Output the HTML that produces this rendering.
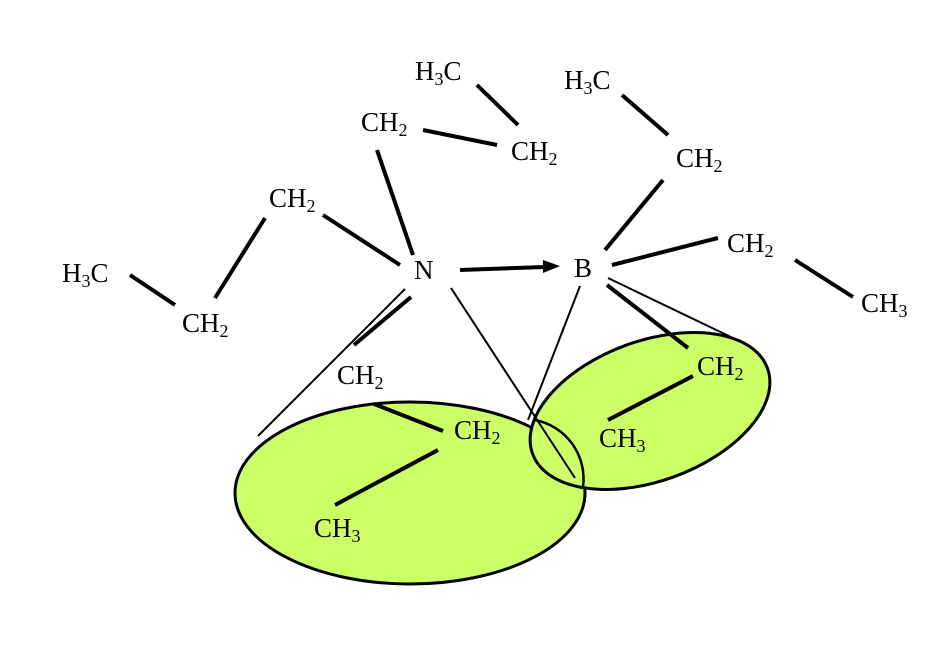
<!DOCTYPE html>
<html><head><style>body{margin:0;background:#fff}svg{display:block}text{font-family:"Liberation Serif",serif;font-size:27px;fill:#000}</style></head><body>
<svg width="948" height="648" viewBox="0 0 948 648">
<ellipse cx="410" cy="493" rx="175" ry="91" fill="#ccff66" stroke="#000" stroke-width="3"/>
<ellipse cx="650" cy="411" rx="125" ry="70" transform="rotate(-20 650 411)" fill="#ccff66" stroke="#000" stroke-width="3"/>
<path d="M535 420 A60 60 0 0 1 583 487" fill="none" stroke="#000" stroke-width="2.5"/>
<g stroke="#000" stroke-width="4" fill="none">
<line x1="477" y1="85" x2="518" y2="125"/>
<line x1="423" y1="130" x2="497" y2="145"/>
<line x1="377" y1="150" x2="413" y2="255"/>
<line x1="323" y1="215" x2="400" y2="265"/>
<line x1="130" y1="275" x2="175" y2="305"/>
<line x1="215" y1="298" x2="265" y2="218"/>
<line x1="460" y1="270" x2="545" y2="267"/>
<line x1="622" y1="95" x2="668" y2="135"/>
<line x1="663" y1="180" x2="605" y2="250"/>
<line x1="612" y1="265" x2="718" y2="238"/>
<line x1="795" y1="260" x2="853" y2="297"/>
<line x1="411" y1="297" x2="354" y2="345"/>
<line x1="374" y1="404" x2="443" y2="431"/>
<line x1="438" y1="450" x2="335" y2="505"/>
<line x1="607" y1="285" x2="688" y2="348"/>
<line x1="693" y1="376" x2="608" y2="420"/>
</g>
<polygon points="560,266 543,260 543,273" fill="#000"/>
<g stroke="#000" stroke-width="2" fill="none">
<line x1="405" y1="289" x2="258" y2="436"/>
<line x1="451" y1="288" x2="575" y2="478"/>
<line x1="580" y1="286" x2="528" y2="420"/>
<line x1="608" y1="278" x2="733" y2="338"/>
</g>
<text x="415" y="80">H<tspan font-size="18" dy="5">3</tspan><tspan dy="-5">C</tspan></text>
<text x="361" y="131">CH<tspan font-size="18" dy="5">2</tspan></text>
<text x="511" y="160">CH<tspan font-size="18" dy="5">2</tspan></text>
<text x="564" y="89">H<tspan font-size="18" dy="5">3</tspan><tspan dy="-5">C</tspan></text>
<text x="676" y="167">CH<tspan font-size="18" dy="5">2</tspan></text>
<text x="269" y="207">CH<tspan font-size="18" dy="5">2</tspan></text>
<text x="62" y="282">H<tspan font-size="18" dy="5">3</tspan><tspan dy="-5">C</tspan></text>
<text x="182" y="332">CH<tspan font-size="18" dy="5">2</tspan></text>
<text x="414" y="279">N</text>
<text x="574" y="277">B</text>
<text x="727" y="252">CH<tspan font-size="18" dy="5">2</tspan></text>
<text x="861" y="312">CH<tspan font-size="18" dy="5">3</tspan></text>
<text x="337" y="384">CH<tspan font-size="18" dy="5">2</tspan></text>
<text x="454" y="439">CH<tspan font-size="18" dy="5">2</tspan></text>
<text x="697" y="375">CH<tspan font-size="18" dy="5">2</tspan></text>
<text x="599" y="447">CH<tspan font-size="18" dy="5">3</tspan></text>
<text x="314" y="537">CH<tspan font-size="18" dy="5">3</tspan></text>
</svg>
</body></html>
